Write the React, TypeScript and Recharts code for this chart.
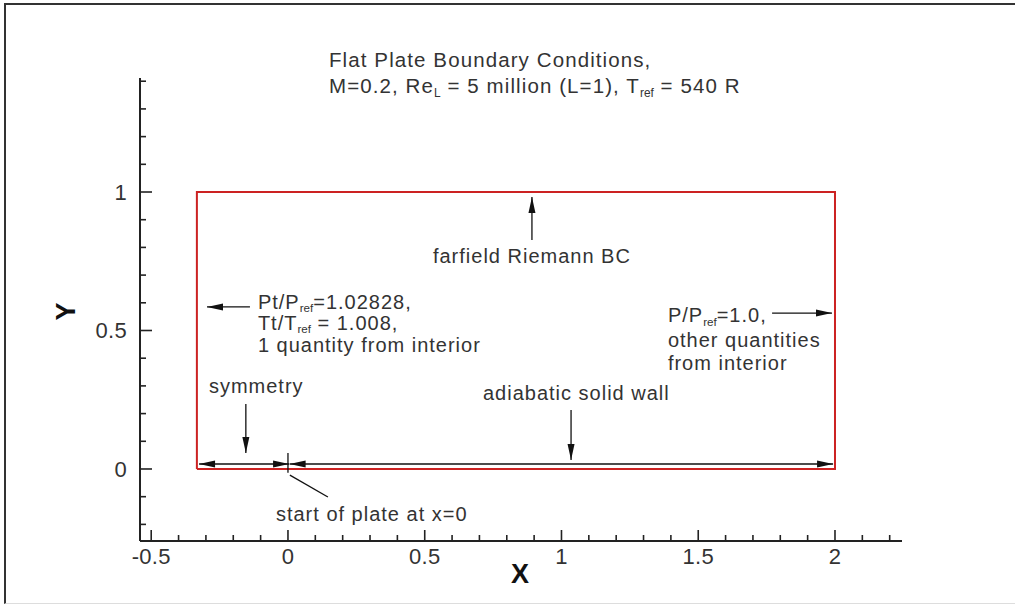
import { LineChart, Line, XAxis, YAxis, ReferenceLine, ReferenceDot } from 'recharts';

// axis ranges and ticks (every 0.1, labelled every 0.5)
const xRange = [-0.541, 2.245];
const yRange = [-0.26, 1.4116];
const xTicks = [-0.5, -0.4, -0.3, -0.2, -0.1, 0, 0.1, 0.2, 0.3, 0.4, 0.5, 0.6, 0.7, 0.8, 0.9, 1, 1.1, 1.2, 1.3, 1.4, 1.5, 1.6, 1.7, 1.8, 1.9, 2, 2.1, 2.2];
const yTicks = [-0.2, -0.1, 0, 0.1, 0.2, 0.3, 0.4, 0.5, 0.6, 0.7, 0.8, 0.9, 1, 1.1, 1.2, 1.3, 1.4];

// computational domain (red box)
const plateX = [-0.333, 2];
const plateY = [0, 1];

// annotation arrows, in x/y units
const arrows = [
  { from: [-0.325, 0.018], to: [0.004, 0.018], heads: 'both' },
  { from: [0.006, 0.018], to: [1.993, 0.018], heads: 'both' },
  { from: [0, 0.058], to: [0, -0.014], heads: 'none' },
  { from: [0.007, -0.022], to: [0.146, -0.101], heads: 'none' },
  { from: [-0.154, 0.235], to: [-0.154, 0.058], heads: 'end' },
  { from: [-0.139, 0.585], to: [-0.296, 0.585], heads: 'end' },
  { from: [0.892, 0.827], to: [0.892, 0.982], heads: 'end' },
  { from: [1.035, 0.213], to: [1.035, 0.032], heads: 'end' },
  { from: [1.77, 0.563], to: [1.989, 0.563], heads: 'end' },
];

// text notes, left edge / baseline in x/y units; _{..} is a subscript
const titleLines = [
  { x: 0.15, y: 1.451, text: 'Flat Plate Boundary Conditions,' },
  { x: 0.15, y: 1.357, text: 'M=0.2, Re_{L} = 5 million (L=1), T_{ref} = 540 R' },
];
const notes = [
  { x: 0.53, y: 0.744, text: 'farfield Riemann BC' },
  { x: -0.11, y: 0.578, text: 'Pt/P_{ref}=1.02828,' },
  { x: -0.11, y: 0.502, text: 'Tt/T_{ref} = 1.008,' },
  { x: -0.11, y: 0.424, text: '1 quantity from interior' },
  { x: -0.289, y: 0.274, text: 'symmetry' },
  { x: 0.713, y: 0.249, text: 'adiabatic solid wall' },
  { x: 1.389, y: 0.529, text: 'P/P_{ref}=1.0,' },
  { x: 1.389, y: 0.442, text: 'other quantities' },
  { x: 1.389, y: 0.359, text: 'from interior' },
  { x: -0.044, y: -0.188, text: 'start of plate at x=0' },
];

const ink = '#222';
const font = '"Liberation Sans", Arial, sans-serif';

const plateOutline = [
  { x: plateX[0], y: plateY[0] },
  { x: plateX[1], y: plateY[0] },
  { x: plateX[1], y: plateY[1] },
  { x: plateX[0], y: plateY[1] },
  { x: plateX[0], y: plateY[0] },
];

const isMajor = (v: number) => Math.abs(v * 2 - Math.round(v * 2)) < 1e-6;

function XTick({ x, y, payload }: any) {
  const v = payload.value;
  const major = isMajor(v);
  return (
    <g>
      <line x1={x} x2={x} y1={y} y2={y - (major ? 11 : 6)} stroke={ink} strokeWidth={1.6} />
      {major && (
        <text x={x} y={y + 23} textAnchor="middle" fontFamily={font} fontSize={22} letterSpacing={0.3} fill="#333">
          {String(v)}
        </text>
      )}
    </g>
  );
}

function YTick({ x, y, payload }: any) {
  const v = payload.value;
  const major = isMajor(v);
  return (
    <g>
      <line x1={x} x2={x + (major ? 12 : 6)} y1={y} y2={y} stroke={ink} strokeWidth={1.6} />
      {major && (
        <text x={x - 13} y={y + 8} textAnchor="end" fontFamily={font} fontSize={22} letterSpacing={0.3} fill="#333">
          {String(v)}
        </text>
      )}
    </g>
  );
}

function rich(text: string, size: number) {
  const parts = text.split(/_\{([^}]*)\}/);
  const out: any[] = [];
  let down = false;
  parts.forEach((p, i) => {
    if (i % 2 === 1) {
      out.push(<tspan key={i} fontSize={size * 0.58} letterSpacing={0} dy={3.5}>{p}</tspan>);
      down = true;
    } else if (p) {
      out.push(<tspan key={i} dy={down ? -3.5 : 0}>{p}</tspan>);
      down = false;
    }
  });
  return out;
}

const noteShape = (text: string, size: number, spacing: number) => (p: any) => (
  <text x={p.cx} y={p.cy} fontFamily={font} fontSize={size} letterSpacing={spacing} fill="#333">
    {rich(text, size)}
  </text>
);

const arrowShape = (heads: string) => (p: any) => {
  const { x1, y1, x2, y2 } = p;
  const L = Math.hypot(x2 - x1, y2 - y1) || 1;
  const ux = (x2 - x1) / L;
  const uy = (y2 - y1) / L;
  const head = (tx: number, ty: number, sx: number, sy: number) => {
    const bx = tx - sx * 16;
    const by = ty - sy * 16;
    return `${tx},${ty} ${bx - sy * 3.5},${by + sx * 3.5} ${bx + sy * 3.5},${by - sx * 3.5}`;
  };
  return (
    <g>
      <line x1={x1} y1={y1} x2={x2} y2={y2} stroke="#111" strokeWidth={1.3} />
      {heads !== 'none' && <polygon points={head(x2, y2, ux, uy)} fill="#111" />}
      {heads === 'both' && <polygon points={head(x1, y1, -ux, -uy)} fill="#111" />}
    </g>
  );
};

export default function App() {
  return (
    <div style={{ position: 'absolute', left: 0, top: 0, width: 1015, height: 606, background: '#fff' }}>
      <div
        style={{
          position: 'absolute', left: 4, top: 3, right: 0, bottom: 2,
          borderTop: '2px solid #333', borderLeft: '2px solid #333', borderBottom: '1px solid #ddd',
        }}
      />
      <LineChart
        width={1015}
        height={606}
        margin={{ top: 78, right: 113, bottom: 25, left: 80 }}
        style={{ position: 'absolute', left: 0, top: 0 }}
      >
        <XAxis
          dataKey="x"
          type="number"
          domain={xRange}
          allowDataOverflow
          ticks={xTicks}
          interval={0}
          tickSize={0}
          tickMargin={0}
          tickLine={false}
          height={40}
          axisLine={{ stroke: ink, strokeWidth: 2 }}
          tick={<XTick />}
          label={{
            content: (p: any) => (
              <text
                x={p.viewBox.x + p.viewBox.width / 2 - 1}
                y={p.viewBox.y + 42}
                textAnchor="middle"
                fontFamily={font}
                fontWeight="bold"
                fontSize={27}
                fill="#111"
              >
                X
              </text>
            ),
          }}
        />
        <YAxis
          type="number"
          domain={yRange}
          allowDataOverflow
          ticks={yTicks}
          interval={0}
          tickSize={0}
          tickMargin={0}
          tickLine={false}
          width={60}
          axisLine={{ stroke: ink, strokeWidth: 2 }}
          tick={<YTick />}
          label={{
            content: (p: any) => {
              const cx = p.viewBox.x - 14;
              const cy = p.viewBox.y + p.viewBox.height / 2 + 2;
              return (
                <text
                  x={cx}
                  y={cy}
                  transform={`rotate(-90 ${cx} ${cy})`}
                  textAnchor="middle"
                  dominantBaseline="central"
                  fontFamily={font}
                  fontWeight="bold"
                  fontSize={27}
                  fill="#111"
                >
                  Y
                </text>
              );
            },
          }}
        />
        <Line
          data={plateOutline}
          dataKey="y"
          stroke="#cc2222"
          strokeWidth={2}
          dot={false}
          isAnimationActive={false}
        />
        {arrows.map((a, i) => (
          <ReferenceLine
            key={`a${i}`}
            segment={[{ x: a.from[0], y: a.from[1] }, { x: a.to[0], y: a.to[1] }]}
            shape={arrowShape(a.heads)}
          />
        ))}
        {titleLines.map((t, i) => (
          <ReferenceDot key={`t${i}`} x={t.x} y={t.y} r={0} ifOverflow="visible" shape={noteShape(t.text, 20.5, 1.1)} />
        ))}
        {notes.map((n, i) => (
          <ReferenceDot key={`n${i}`} x={n.x} y={n.y} r={0} ifOverflow="visible" shape={noteShape(n.text, 20, 1.0)} />
        ))}
      </LineChart>
    </div>
  );
}
